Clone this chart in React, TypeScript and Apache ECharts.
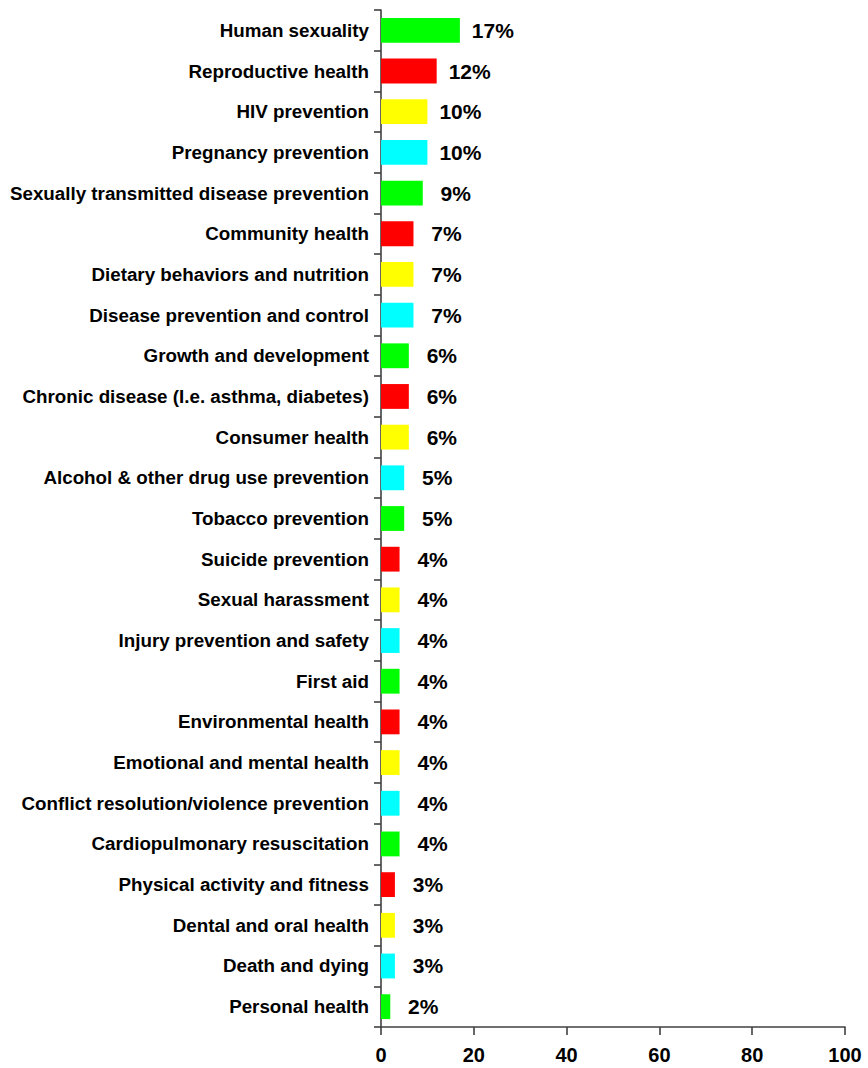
import React, { useEffect, useRef } from "react";
import * as echarts from "echarts";

const categories = [
  "Human sexuality",
  "Reproductive health",
  "HIV prevention",
  "Pregnancy prevention",
  "Sexually transmitted disease prevention",
  "Community health",
  "Dietary behaviors and nutrition",
  "Disease prevention and control",
  "Growth and development",
  "Chronic disease (I.e. asthma, diabetes)",
  "Consumer health",
  "Alcohol & other drug use prevention",
  "Tobacco prevention",
  "Suicide prevention",
  "Sexual harassment",
  "Injury prevention and safety",
  "First aid",
  "Environmental health",
  "Emotional and mental health",
  "Conflict resolution/violence prevention",
  "Cardiopulmonary resuscitation",
  "Physical activity and fitness",
  "Dental and oral health",
  "Death and dying",
  "Personal health",
];

const values = [17, 12, 10, 10, 9, 7, 7, 7, 6, 6, 6, 5, 5, 4, 4, 4, 4, 4, 4, 4, 4, 3, 3, 3, 2];

const palette = ["#00FF00", "#FF0000", "#FFFF00", "#00FFFF"];

const xTicks = [0, 20, 40, 60, 80, 100];

export default function App() {
  const ref = useRef<HTMLDivElement>(null);
  useEffect(() => {
    if (!ref.current) return;
    const chart = echarts.init(ref.current, undefined, { renderer: "svg" });
    const font = "Liberation Sans, Arial, sans-serif";
    chart.setOption({
      animation: false,
      grid: { left: 381, right: 23, top: 10, bottom: 41, containLabel: false },
      xAxis: {
        type: "value",
        min: xTicks[0],
        max: xTicks[xTicks.length - 1],
        interval: 20,
        splitLine: { show: false },
        axisLine: { show: true, lineStyle: { color: "#404040", width: 1.6 } },
        axisTick: { show: true, length: 8, lineStyle: { color: "#404040", width: 1.6 } },
        axisLabel: {
          color: "#000",
          fontWeight: "bold",
          fontSize: 20,
          fontFamily: font,
          margin: 18,
        },
      },
      yAxis: {
        type: "category",
        data: categories,
        inverse: true,
        axisLine: { show: true, lineStyle: { color: "#404040", width: 1.6 } },
        axisTick: { show: true, length: 7, lineStyle: { color: "#404040", width: 1.6 } },
        axisLabel: {
          color: "#000",
          fontWeight: "bold",
          fontSize: 18.8,
          fontFamily: font,
          margin: 12,
          interval: 0,
        },
      },
      series: [
        {
          type: "bar",
          data: values.map((v, i) => ({
            value: v,
            itemStyle: { color: palette[i % palette.length] },
          })),
          barWidth: "61%",
          label: {
            show: true,
            position: ["100%", "50%"],
            offset: [33, 0],
            align: "center",
            verticalAlign: "middle",
            formatter: (p: any) => `${p.value}%`,
            color: "#000",
            fontWeight: "bold",
            fontSize: 21,
            fontFamily: font,
          },
        },
      ],
    });
    return () => chart.dispose();
  }, []);
  return (
    <div
      ref={ref}
      style={{ position: "fixed", left: 0, top: 0, width: 868, height: 1068, background: "#fff" }}
    />
  );
}
